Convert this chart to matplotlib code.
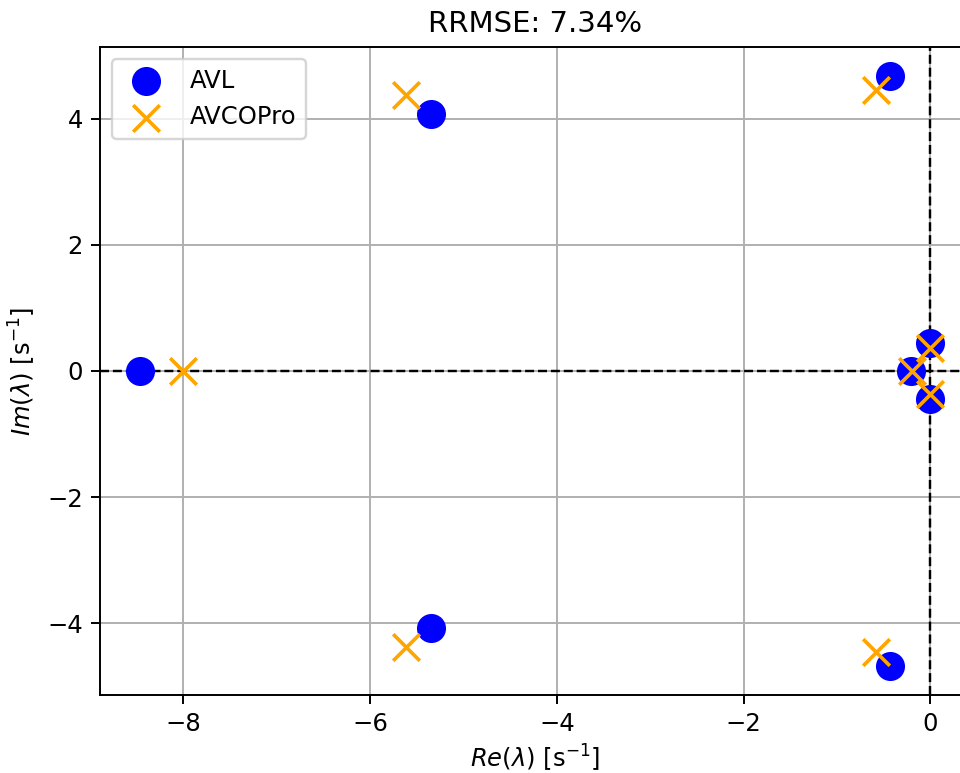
import numpy as np
import matplotlib
matplotlib.use("Agg")
import matplotlib.pyplot as plt

# eigenvalues
avl_re = [-8.47, -5.35, -5.35, -0.43, -0.43, 0.0, 0.0, -0.21]
avl_im = [0.0, 4.08, -4.08, 4.67, -4.67, 0.45, -0.45, 0.0]
pro_re = [-8.0, -5.62, -5.62, -0.58, -0.58, 0.0, 0.0, -0.2]
pro_im = [0.0, 4.38, -4.38, 4.45, -4.45, 0.36, -0.36, 0.0]
rrmse = 7.34

dpi = 175
fig = plt.figure(figsize=(960 / dpi, 773 / dpi), dpi=dpi)
ax = fig.add_axes([100 / 960, 1 - 695 / 773, 870 / 960, (695 - 47) / 773])

ax.scatter(avl_re, avl_im, s=120, color='blue', label='AVL', zorder=3)
ax.scatter(pro_re, pro_im, s=120, marker='x', color='orange', linewidths=1.5,
           label='AVCOPro', zorder=4)
ax.axhline(0, color='black', linestyle='--', linewidth=1)
ax.axvline(0, color='black', linestyle='--', linewidth=1)
ax.grid(True)
ax.set_xlabel(r'$Re(\lambda)$ [s$^{-1}$]', labelpad=3)
ax.set_ylabel(r'$Im(\lambda)$ [s$^{-1}$]')
ax.set_title('RRMSE: %.2f%%' % rrmse)
ax.legend(loc='upper left')

fig.savefig('out.png', dpi=dpi)
